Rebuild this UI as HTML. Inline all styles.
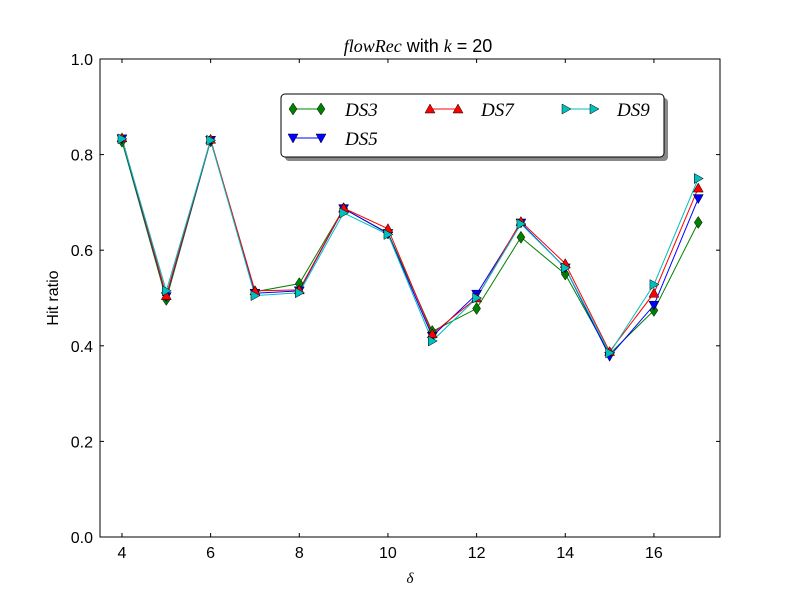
<!DOCTYPE html>
<html><head><meta charset="utf-8"><style>
body{margin:0;background:#fff;width:800px;height:597px;overflow:hidden}
svg{display:block}
text{font-family:"Liberation Sans",sans-serif;fill:#000}
.it{font-family:"Liberation Serif",serif;font-style:italic}
</style></head><body>
<svg id="s" width="800" height="597" xmlns="http://www.w3.org/2000/svg"></svg>
<script>
const s=document.getElementById('s');
const X=v=>99.8+(v-3.5)*44.33, Y=v=>537-v*478;
let h='<rect width="800" height="597" fill="#fff"/>';
const xs=[4,5,6,7,8,9,10,11,12,13,14,15,16,17];
const S=[
 ['green','d',[0.828,0.497,0.829,0.513,0.530,0.687,0.636,0.430,0.478,0.627,0.550,0.383,0.474,0.658]],
 ['red','u',[0.835,0.505,0.832,0.515,0.517,0.688,0.645,0.425,0.500,0.660,0.572,0.388,0.510,0.730]],
 ['blue','v',[0.833,0.503,0.830,0.510,0.515,0.687,0.635,0.420,0.508,0.657,0.563,0.378,0.485,0.708]],
 ['#00bfbf','r',[0.833,0.515,0.830,0.505,0.511,0.678,0.633,0.410,0.500,0.655,0.563,0.385,0.528,0.750]]];
function mk(t,x,y,c){
 let p;
 if(t=='d')p=`${x},${y-6} ${x+4},${y} ${x},${y+6} ${x-4},${y}`;
 if(t=='u')p=`${x},${y-5} ${x+5},${y+4} ${x-5},${y+4}`;
 if(t=='v')p=`${x},${y+5} ${x+5},${y-4} ${x-5},${y-4}`;
 if(t=='r')p=`${x+5},${y} ${x-4},${y-5} ${x-4},${y+5}`;
 return `<polygon points="${p}" fill="${c}" stroke="#000" stroke-width="0.5"/>`;
}
const order=[0,2,1,3];
for(const i of order){const [c,t,d]=S[i];
 h+=`<polyline fill="none" stroke="${c}" stroke-width="1" points="${xs.map((x,j)=>X(x)+','+Y(d[j])).join(' ')}"/>`;}
for(const i of order){const [c,t,d]=S[i];xs.forEach((x,j)=>h+=mk(t,X(x),Y(d[j]),c));}
h+='<rect x="100" y="59" width="620" height="478" fill="none" stroke="#000"/>';
for(let v=4;v<=16;v+=2){const x=X(v);h+=`<line x1="${x}" y1="537" x2="${x}" y2="533" stroke="#000"/><line x1="${x}" y1="59" x2="${x}" y2="63" stroke="#000"/><text x="${x}" y="558" font-size="16" text-anchor="middle">${v}</text>`;}
for(let k=0;k<=5;k++){const v=k*0.2,y=Y(v);h+=`<line x1="100" y1="${y}" x2="104" y2="${y}" stroke="#000"/><line x1="720" y1="${y}" x2="716" y2="${y}" stroke="#000"/><text x="93" y="${y+6}" font-size="16" text-anchor="end">${v.toFixed(1)}</text>`;}
h+='<text x="410" y="583" class="it" font-size="15" text-anchor="middle">δ</text>';
h+='<text x="58" y="298" font-size="16" text-anchor="middle" transform="rotate(-90 58 298)">Hit ratio</text>';
h+='<text x="418" y="52" font-size="18" text-anchor="middle"><tspan class="it">flowRec</tspan> with <tspan class="it">k</tspan> = 20</text>';
h+='<rect x="285" y="98" width="383" height="63" rx="4" fill="#888"/><rect x="281" y="94" width="383" height="63" rx="4" fill="#fff" stroke="#000"/>';
const L=[[0,293,109,'DS3',345],[1,430,109,'DS7',481],[3,566,109,'DS9',617],[2,293,138,'DS5',345]];
for(const [i,x,y,n,tx] of L){const [c,t]=S[i];h+=`<line x1="${x}" y1="${y}" x2="${x+28}" y2="${y}" stroke="${c}"/>`+mk(t,x,y,c)+mk(t,x+28,y,c)+`<text x="${tx}" y="${y+7}" class="it" font-size="19">${n}</text>`;}
s.innerHTML=h;
</script>
</body></html>
